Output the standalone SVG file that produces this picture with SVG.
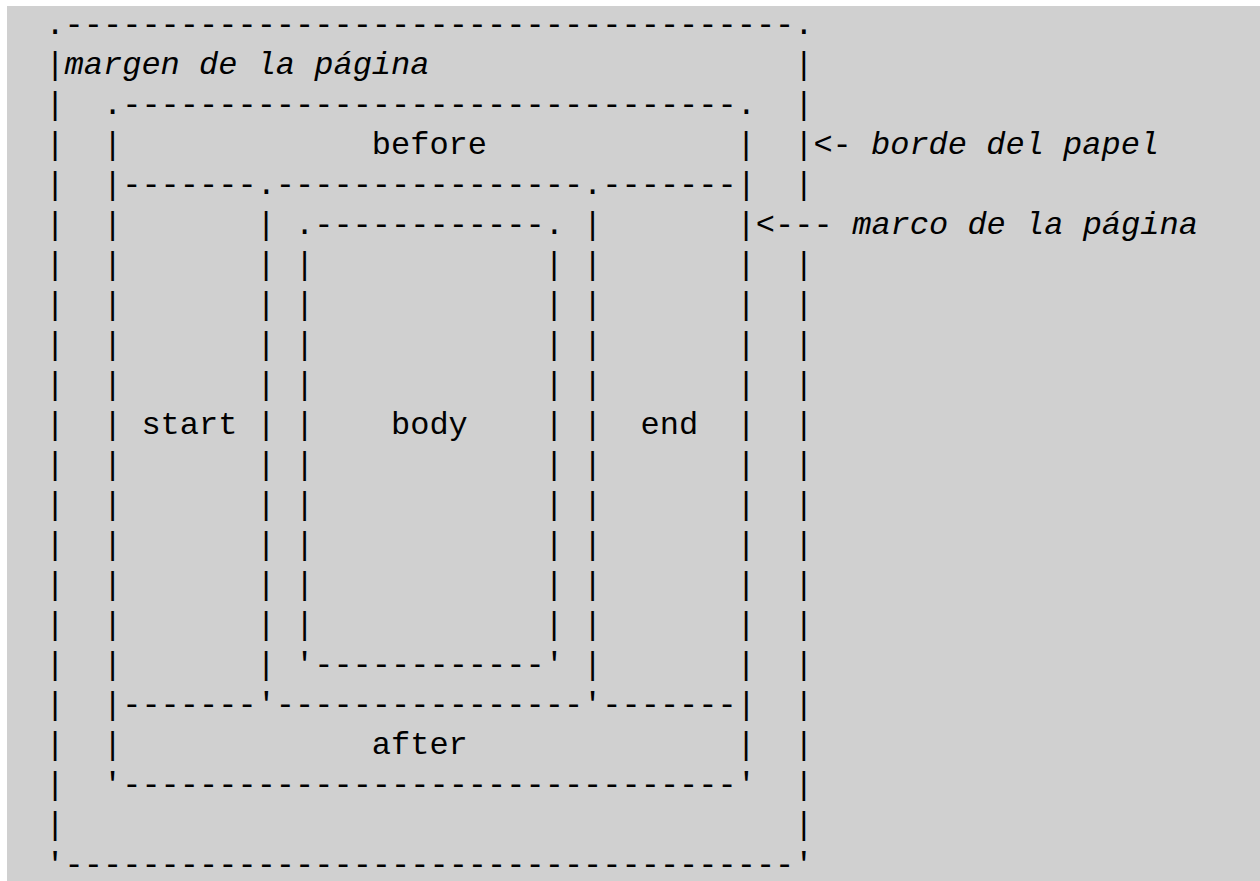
<svg xmlns="http://www.w3.org/2000/svg" xmlns:xlink="http://www.w3.org/1999/xlink" width="1260" height="881" viewBox="0 0 1260 881">
  <style>
    .m { font-family: "Liberation Mono", "DejaVu Sans Mono", monospace; font-size: 32px; fill: #000; white-space: pre; }
    .i { font-style: italic; }
  </style>
  <defs>
    <!-- one row of vertical rules: columns 0, 3, 11, 13, 26, 28, 36, 39 (19.2px per column) -->
    <text id="bars" class="m" x="45.4 103 256.6 295 544.6 583 736.6 794.2" y="0">||||||||</text>
  </defs>

  <rect x="0" y="0" width="1260" height="881" fill="#ffffff"/>
  <rect x="7" y="6" width="1253" height="875" fill="#d0d0d0"/>

  <!-- paper edge: outer box -->
  <g id="paper-edge">
    <text class="m" x="45.4" y="34">.--------------------------------------.</text>
    <text class="m" x="45.4" y="74">|</text>
    <text class="m i" x="64.6" y="74">margen de la página</text>
    <text class="m" x="794.2" y="74">|</text>
    <text class="m" x="45.4" y="114">|</text>
    <text class="m" x="794.2" y="114">|</text>
    <text class="m" x="45.4" y="834">|</text>
    <text class="m" x="794.2" y="834">|</text>
    <text class="m" x="45.4" y="874">'--------------------------------------'</text>
  </g>

  <!-- page frame: region-before / region-after box -->
  <g id="page-frame">
    <text class="m" x="103" y="114">.--------------------------------.</text>
    <text class="m" x="45.4 103" y="154">||</text>
    <text class="m" x="371.8" y="154">before</text>
    <text class="m" x="736.6" y="154">|</text>
    <text class="m" x="45.4" y="194">|</text>
    <text class="m" x="103" y="194">|-------.----------------.-------|</text>
    <text class="m" x="794.2" y="194">|</text>
    <text class="m" x="45.4" y="714">|</text>
    <text class="m" x="103" y="714">|-------'----------------'-------|</text>
    <text class="m" x="794.2" y="714">|</text>
    <text class="m" x="45.4 103" y="754">||</text>
    <text class="m" x="371.8" y="754">after</text>
    <text class="m" x="736.6 794.2" y="754">||</text>
    <text class="m" x="45.4" y="794">|</text>
    <text class="m" x="103" y="794">'--------------------------------'</text>
    <text class="m" x="794.2" y="794">|</text>
  </g>

  <!-- side regions and body -->
  <g id="regions">
    <text class="m" x="45.4 103 256.6" y="234">|||</text>
    <text class="m" x="295" y="234">.------------.</text>
    <text class="m" x="583" y="234">|</text>
    <use xlink:href="#bars" href="#bars" y="274"/>
    <use xlink:href="#bars" href="#bars" y="314"/>
    <use xlink:href="#bars" href="#bars" y="354"/>
    <use xlink:href="#bars" href="#bars" y="394"/>
    <use xlink:href="#bars" href="#bars" y="434"/>
    <use xlink:href="#bars" href="#bars" y="474"/>
    <use xlink:href="#bars" href="#bars" y="514"/>
    <use xlink:href="#bars" href="#bars" y="554"/>
    <use xlink:href="#bars" href="#bars" y="594"/>
    <use xlink:href="#bars" href="#bars" y="634"/>
    <text class="m" x="141.4" y="434">start</text>
    <text class="m" x="391" y="434">body</text>
    <text class="m" x="640.6" y="434">end</text>
    <text class="m" x="45.4 103 256.6" y="674">|||</text>
    <text class="m" x="295" y="674">'------------'</text>
    <text class="m" x="583 736.6 794.2" y="674">|||</text>
  </g>

  <!-- labels pointing at the edges -->
  <g id="labels">
    <text class="m" x="794.2" y="154">|&lt;-</text>
    <text class="m i" x="871" y="154">borde del papel</text>
    <text class="m" x="736.6" y="234">|&lt;---</text>
    <text class="m i" x="852.2" y="234">marco de la página</text>
  </g>
</svg>
